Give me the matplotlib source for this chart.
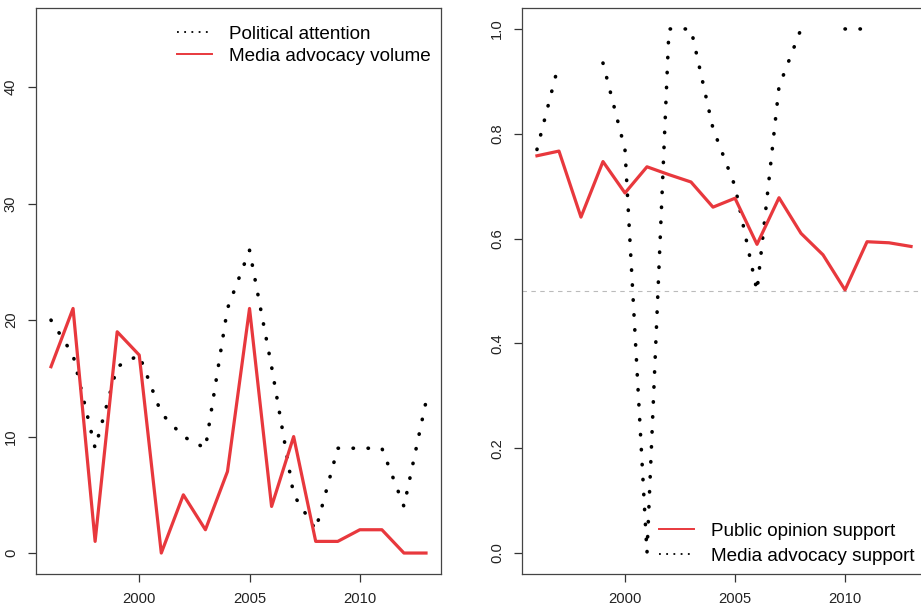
import numpy as np
import matplotlib
matplotlib.use('Agg')
import matplotlib.pyplot as plt
from matplotlib.lines import Line2D

plt.rcParams['font.family'] = ['Liberation Sans', 'DejaVu Sans']

years = list(range(1996, 2014))

# left panel
political_attention = [20, 17, 9, 16, 17, 12, 10, 9, 21, 26, 16, 5, 2, 9, 9, 9, 4, 13]
media_volume = [16, 21, 1, 19, 17, 0, 5, 2, 7, 21, 4, 10, 1, 1, 2, 2, 0, 0]

# right panel (nan = missing year)
public_support = [0.758, 0.767, 0.641, 0.747, 0.687, 0.737, 0.722, 0.708, 0.660, 0.677,
                  0.589, 0.678, 0.610, 0.569, 0.502, 0.594, 0.592, 0.585]
media_support = [0.77, 0.935, np.nan, 0.935, 0.77, 0.0, 1.0, 1.0, 0.81, 0.70,
                 0.50, 0.89, 1.0, np.nan, 1.0, 1.0, np.nan, np.nan]

red = '#E8383D'
dotted = (0, (0.1, 4.05))

fig = plt.figure(figsize=(9.21, 6.06), dpi=100)
ax1 = fig.add_axes([36/921, 32/606, 405/921, 566/606])
ax2 = fig.add_axes([522/921, 32/606, 404/921, 566/606])

# ---- left
ax1.plot(years, political_attention, color='black', lw=2.6, linestyle=dotted,
         dash_capstyle='round')
ax1.plot(years, media_volume, color=red, lw=2.3)
ax1.set_xlim(1995.32, 2013.68)
ax1.set_ylim(-1.8, 46.8)
ax1.set_yticks([0, 10, 20, 30, 40])
ax1.set_yticklabels(['0', '10', '20', '30', '40'])

# ---- right
ax2.axhline(0.5, color='#BBBBBB', lw=0.8, linestyle=(0, (4, 4)))
ax2.plot(years, media_support, color='black', lw=2.6, linestyle=dotted,
         dash_capstyle='round')
ax2.plot(years, public_support, color=red, lw=2.3)
ax2.set_xlim(1995.32, 2013.68)
ax2.set_ylim(-0.04, 1.04)
ax2.set_yticks([0, 0.2, 0.4, 0.6, 0.8, 1.0])
ax2.set_yticklabels(['0.0', '0.2', '0.4', '0.6', '0.8', '1.0'])

for ax in (ax1, ax2):
    ax.set_xticks([2000, 2005, 2010])
    ax.set_xticklabels(['2000', '2005', '2010'])
    ax.tick_params(axis='both', direction='out', length=6, width=0.9,
                   color='#333333', labelcolor='#222222', labelsize=10.6, pad=7)
    ax.tick_params(axis='y', labelrotation=90)
    for lab in ax.get_yticklabels():
        lab.set_va('center')
    for s in ax.spines.values():
        s.set_color('#444444')
        s.set_linewidth(0.9)

h1 = [Line2D([], [], color='black', lw=1.3, linestyle=(0, (1, 3))),
      Line2D([], [], color=red, lw=1.4)]
ax1.legend(h1, ['Political attention', 'Media advocacy volume'], frameon=False,
           loc='upper left', bbox_to_anchor=(176.7/921, 1 - 25.5/606),
           bbox_transform=fig.transFigure, borderpad=0, borderaxespad=0,
           fontsize=13.6, handlelength=1.85, handletextpad=0.9, labelspacing=0.26)

h2 = [Line2D([], [], color=red, lw=1.4),
      Line2D([], [], color='black', lw=1.3, linestyle=(0, (1, 3)))]
ax2.legend(h2, ['Public opinion support', 'Media advocacy support'], frameon=False,
           loc='upper left', bbox_to_anchor=(659/921, 1 - 522.7/606),
           bbox_transform=fig.transFigure, borderpad=0, borderaxespad=0,
           fontsize=13.6, handlelength=1.85, handletextpad=0.9, labelspacing=0.4)

fig.savefig('out.png', dpi=100)
